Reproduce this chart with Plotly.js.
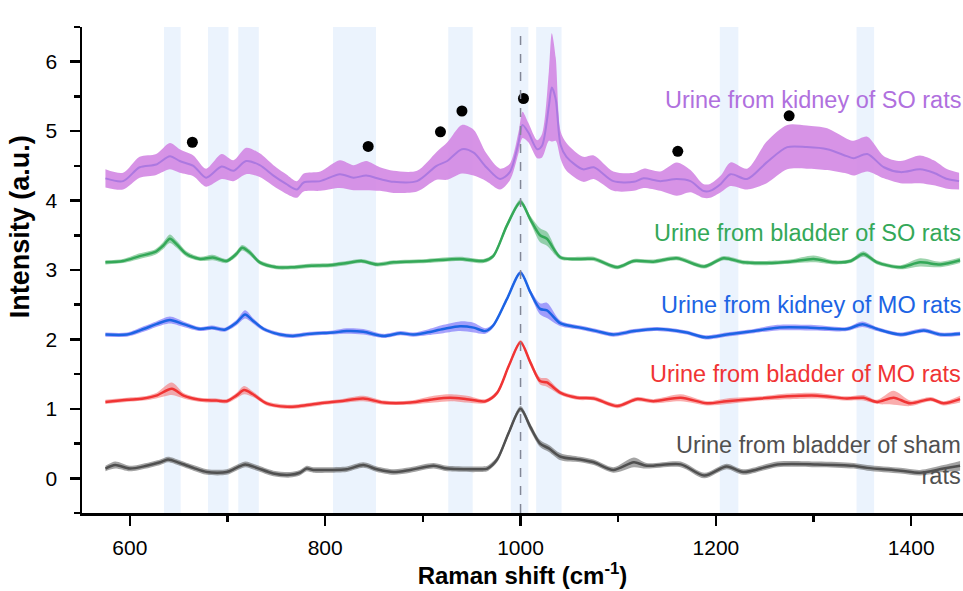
<!DOCTYPE html>
<html><head><meta charset="utf-8">
<script src="https://cdn.plot.ly/plotly-3.0.1.min.js"></script>
<style>html,body{margin:0;padding:0;background:#fff}#chart{width:963px;height:591px}</style>
</head><body><div id="chart"></div>
<script>
// ---- Data ----
const seriesNames = ["Urine from kidney of SO rats","Urine from bladder of SO rats","Urine from kidney of MO rats","Urine from bladder of MO rats","Urine from bladder of sham<br>rats"];
const labelY = [5.45, 3.53, 2.49, 1.50, 0.26];

const xKidneySO = [575,593,610,627,641,651,665,678,694,706,719,733,747,760,771,778,795,815,829,842,856,870,894,914,925,940,952,965,979,989,998,1002,1008,1017,1022,1029,1032,1036,1041,1047,1064,1075,1095,1116,1126,1143,1160,1174,1187,1194,1205,1215,1232,1252,1273,1293,1314,1334,1341,1355,1372,1389,1409,1423,1437,1449];
const meanKidneySO = [4.32,4.28,4.48,4.52,4.64,4.57,4.50,4.33,4.49,4.43,4.57,4.51,4.36,4.24,4.16,4.26,4.28,4.38,4.33,4.36,4.31,4.27,4.28,4.50,4.57,4.74,4.69,4.48,4.31,4.41,4.84,5.09,4.98,4.74,4.79,5.36,5.63,5.46,4.80,4.63,4.45,4.48,4.28,4.27,4.32,4.28,4.31,4.28,4.14,4.14,4.24,4.38,4.31,4.55,4.77,4.77,4.74,4.64,4.61,4.67,4.48,4.41,4.45,4.40,4.31,4.28];
const sdKidneySO = [0.13,0.12,0.15,0.15,0.19,0.17,0.15,0.13,0.18,0.15,0.19,0.17,0.15,0.14,0.12,0.13,0.14,0.20,0.18,0.21,0.17,0.16,0.15,0.20,0.27,0.35,0.33,0.20,0.15,0.12,0.15,0.19,0.14,0.13,0.17,0.50,0.78,0.60,0.20,0.20,0.18,0.17,0.14,0.13,0.14,0.14,0.24,0.16,0.10,0.10,0.12,0.17,0.15,0.30,0.32,0.31,0.30,0.25,0.25,0.25,0.16,0.16,0.20,0.18,0.14,0.12];

const xBladderSO = [575,593,610,626,634,641,648,658,672,685,699,709,715,723,733,750,767,784,805,822,837,853,870,904,938,962,972,986,1000,1010,1020,1027,1041,1061,1075,1099,1116,1136,1160,1188,1208,1228,1252,1276,1300,1321,1338,1351,1365,1389,1409,1430,1450];
const meanBladderSO = [3.11,3.13,3.20,3.26,3.35,3.45,3.37,3.23,3.16,3.18,3.13,3.23,3.32,3.25,3.11,3.04,3.04,3.06,3.07,3.10,3.13,3.08,3.11,3.13,3.16,3.13,3.20,3.64,3.98,3.73,3.50,3.45,3.18,3.16,3.16,3.04,3.13,3.12,3.17,3.05,3.17,3.11,3.10,3.12,3.16,3.11,3.13,3.23,3.11,3.04,3.11,3.08,3.14];
const sdBladderSO = [0.03,0.03,0.04,0.04,0.05,0.06,0.05,0.04,0.03,0.04,0.03,0.04,0.04,0.04,0.03,0.03,0.03,0.03,0.03,0.03,0.03,0.03,0.03,0.03,0.03,0.03,0.03,0.04,0.04,0.05,0.10,0.10,0.03,0.03,0.03,0.03,0.03,0.03,0.03,0.03,0.03,0.03,0.03,0.03,0.05,0.03,0.03,0.04,0.03,0.03,0.06,0.04,0.04];

const xKidneyMO = [575,597,614,627,641,655,672,684,697,709,718,726,737,754,767,784,808,822,839,860,877,890,904,921,938,952,964,972,986,1000,1010,1020,1027,1041,1061,1078,1095,1116,1140,1170,1189,1211,1239,1263,1297,1334,1350,1365,1389,1413,1430,1450];
const meanKidneyMO = [2.07,2.07,2.15,2.22,2.28,2.22,2.15,2.17,2.14,2.24,2.36,2.27,2.15,2.07,2.05,2.08,2.10,2.12,2.11,2.05,2.09,2.07,2.10,2.15,2.19,2.17,2.12,2.20,2.58,2.96,2.68,2.44,2.42,2.23,2.17,2.12,2.07,2.12,2.15,2.10,2.03,2.07,2.12,2.17,2.17,2.15,2.22,2.15,2.07,2.13,2.07,2.08];
const sdKidneyMO = [0.03,0.03,0.04,0.04,0.05,0.04,0.03,0.03,0.03,0.04,0.06,0.04,0.03,0.03,0.03,0.03,0.03,0.04,0.04,0.03,0.03,0.03,0.04,0.06,0.07,0.07,0.04,0.03,0.03,0.03,0.04,0.08,0.11,0.04,0.03,0.03,0.03,0.03,0.03,0.03,0.03,0.03,0.03,0.04,0.04,0.03,0.04,0.03,0.03,0.03,0.03,0.03];

const xBladderMO = [575,597,614,627,643,655,672,689,699,709,717,726,740,761,774,795,815,839,860,887,911,928,945,964,976,988,1000,1010,1020,1027,1041,1058,1075,1099,1119,1136,1164,1191,1211,1246,1273,1304,1334,1351,1365,1382,1399,1420,1433,1450];
const meanBladderMO = [1.10,1.13,1.15,1.19,1.29,1.19,1.13,1.12,1.11,1.19,1.27,1.21,1.08,1.03,1.04,1.08,1.11,1.15,1.09,1.09,1.14,1.16,1.14,1.11,1.23,1.62,1.96,1.67,1.40,1.38,1.23,1.16,1.15,1.04,1.14,1.11,1.16,1.08,1.11,1.15,1.18,1.19,1.15,1.16,1.10,1.16,1.08,1.14,1.08,1.14];
const sdBladderMO = [0.03,0.03,0.03,0.04,0.09,0.04,0.03,0.03,0.03,0.04,0.06,0.04,0.03,0.03,0.03,0.03,0.03,0.04,0.03,0.03,0.05,0.05,0.05,0.03,0.03,0.03,0.03,0.04,0.05,0.06,0.03,0.03,0.03,0.03,0.03,0.03,0.05,0.03,0.04,0.03,0.04,0.04,0.03,0.04,0.03,0.10,0.04,0.03,0.03,0.05];

const xSham = [575,585,600,617,631,639,651,665,679,699,709,718,730,747,764,774,781,788,805,822,839,853,870,887,911,925,959,966,976,988,1000,1010,1020,1029,1041,1061,1075,1095,1116,1129,1164,1188,1211,1228,1263,1304,1341,1355,1389,1409,1433,1450];
const meanSham = [0.14,0.19,0.14,0.18,0.23,0.27,0.22,0.15,0.09,0.09,0.15,0.20,0.15,0.07,0.05,0.08,0.14,0.12,0.12,0.13,0.19,0.13,0.09,0.12,0.18,0.14,0.13,0.14,0.27,0.66,1.00,0.74,0.50,0.43,0.31,0.27,0.23,0.12,0.23,0.18,0.20,0.04,0.17,0.09,0.20,0.20,0.18,0.15,0.11,0.08,0.14,0.18];
const sdSham = [0.04,0.05,0.04,0.04,0.04,0.04,0.04,0.04,0.04,0.04,0.04,0.04,0.04,0.04,0.04,0.04,0.04,0.04,0.04,0.04,0.04,0.04,0.04,0.04,0.04,0.04,0.04,0.04,0.04,0.04,0.04,0.05,0.05,0.05,0.05,0.04,0.04,0.04,0.07,0.04,0.04,0.04,0.04,0.04,0.04,0.04,0.04,0.04,0.04,0.04,0.05,0.07];

const bandStart = [635,680,711,808,926,990,1016,1204,1344];
const bandEnd   = [652,701,732,852,951,1008,1042,1223,1362];
const markedPeakX = [664,844,918,940,1003,1031,1161,1275];
const markedPeakY = [4.84,4.78,4.99,5.29,5.47,6.59,4.71,5.22];
const refLineX = 1000;
const yTitleText = "<b>Intensity (a.u.)</b>";
const xTitleText = "<b>Raman shift (cm<sup>-1</sup>)</b>";

// ---- Styles ----
const lineColors = ["rgb(172,120,224)","rgb(52,168,88)","rgb(28,100,228)","rgb(240,52,52)","rgb(80,80,80)"];
const fillColors = ["rgba(210,132,226,0.88)","rgba(60,170,90,0.5)","rgba(110,100,250,0.6)","rgba(245,90,90,0.5)","rgba(90,90,90,0.55)"];
const textColors = ["rgb(176,112,222)","rgb(52,168,88)","rgb(28,100,228)","rgb(240,52,52)","rgb(80,80,80)"];
const lineWidths = [2, 2.5, 2.5, 2.5, 2.5];
const FONT = 'Liberation Sans, Arial, sans-serif';

const series = [
  [xKidneySO, meanKidneySO, sdKidneySO],
  [xBladderSO, meanBladderSO, sdBladderSO],
  [xKidneyMO, meanKidneyMO, sdKidneyMO],
  [xBladderMO, meanBladderMO, sdBladderMO],
  [xSham, meanSham, sdSham]
];

const traces = [];
series.forEach(([x, m, s], i) => {
  const lo = m.map((v, k) => v - s[k]);
  const hi = m.map((v, k) => v + s[k]);
  traces.push({x: x, y: lo, type: 'scatter', mode: 'lines', line: {width: 0, shape: 'spline', smoothing: 0.8}, hoverinfo: 'skip', showlegend: false});
  traces.push({x: x, y: hi, type: 'scatter', mode: 'lines', fill: 'tonexty', fillcolor: fillColors[i], line: {width: 0, shape: 'spline', smoothing: 0.8}, hoverinfo: 'skip', showlegend: false});
  traces.push({x: x, y: m, type: 'scatter', mode: 'lines', name: seriesNames[i], line: {color: lineColors[i], width: lineWidths[i], shape: 'spline', smoothing: 0.8}, showlegend: false});
});
traces.push({x: markedPeakX, y: markedPeakY, type: 'scatter', mode: 'markers', marker: {color: 'black', size: 11}, cliponaxis: false, showlegend: false});

const shapes = bandStart.map((b, i) => ({type: 'rect', xref: 'x', yref: 'paper', x0: b, x1: bandEnd[i], y0: 0, y1: 1, fillcolor: 'rgb(235,243,253)', line: {width: 0}, layer: 'below'}));
shapes.push({type: 'line', xref: 'x', yref: 'paper', x0: refLineX, x1: refLineX, y0: 0, y1: 1, line: {color: 'rgb(130,135,150)', width: 1.5, dash: 'dash'}, layer: 'above'});

const annotations = seriesNames.map((t, i) => ({
  xref: 'paper', yref: 'y', x: 1, y: labelY[i], xanchor: 'right', yanchor: 'middle', align: 'right',
  text: t, showarrow: false, font: {family: FONT, size: 23.5, color: textColors[i]}
}));
// y-axis title placed as in the reference (above the plot's centre)
annotations.push({xref: 'paper', yref: 'y', x: -0.07, y: 3.62, xanchor: 'center', yanchor: 'middle', textangle: -90,
  text: yTitleText, showarrow: false, font: {family: FONT, size: 27, color: 'black'}});

const layout = {
  width: 963, height: 591,
  margin: {l: 82, r: 0, t: 27, b: 78},
  paper_bgcolor: 'white', plot_bgcolor: 'white',
  font: {family: FONT, color: 'black'},
  showlegend: false,
  xaxis: {
    range: [551, 1453], tick0: 600, dtick: 200, ticks: 'outside', ticklen: 10, tickwidth: 2.5, tickcolor: 'black',
    showline: true, linewidth: 2.5, linecolor: 'black', showgrid: false, zeroline: false, ticklabelstandoff: 4,
    tickfont: {size: 21}, minor: {dtick: 100, ticks: 'outside', ticklen: 6, tickwidth: 2.5, tickcolor: 'black', showgrid: false},
    title: {text: xTitleText, font: {size: 24}, standoff: 6}
  },
  yaxis: {
    range: [-0.5, 6.5], tick0: 0, dtick: 1, ticks: 'outside', ticklen: 10, tickwidth: 2.5, tickcolor: 'black',
    showline: true, linewidth: 2.5, linecolor: 'black', showgrid: false, zeroline: false, ticklabelstandoff: 8,
    tickfont: {size: 21}, minor: {dtick: 0.5, ticks: 'outside', ticklen: 6, tickwidth: 2.5, tickcolor: 'black', showgrid: false}
  },
  shapes: shapes,
  annotations: annotations
};

Plotly.newPlot('chart', traces, layout, {displayModeBar: false, staticPlot: true});
</script>
</body></html>
